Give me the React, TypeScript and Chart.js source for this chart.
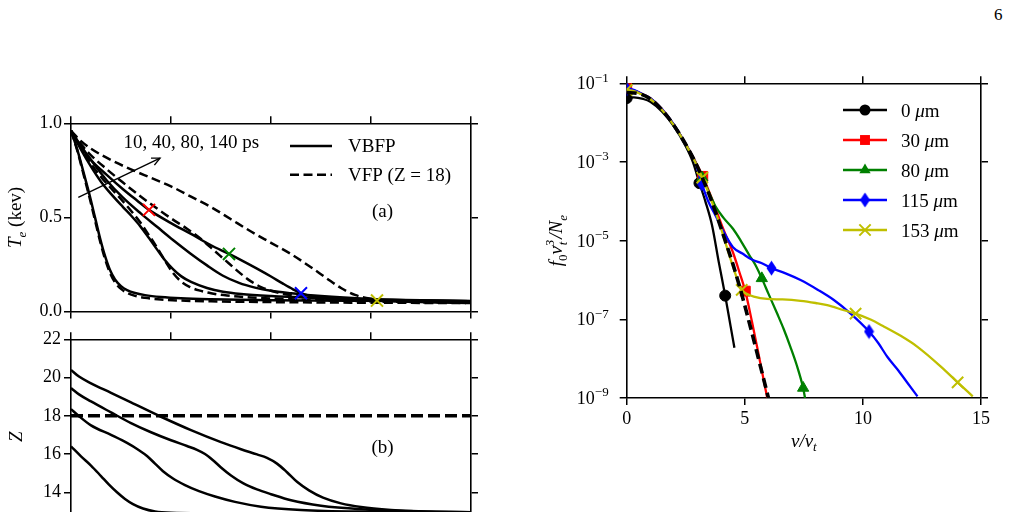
import React, { useEffect, useRef } from "react";
import { Chart, registerables } from "chart.js";

Chart.register(...registerables);

const SERIF = '"Liberation Serif", "Times New Roman", Times, serif';
const TEXT = 19;
const TICK = 18;
const COL = { red: "#ff0000", green: "#008000", blue: "#0000ff", yellow: "#bfbf00", black: "#000000" };

// ---------- (a) electron temperature vs position (µm) ----------
const vbfp10X = [0, 3, 6, 9.5, 12, 14.5, 17, 19.5, 22, 25, 28, 32, 37, 45, 55, 70, 100, 140, 200];
const vbfp10T = [0.96, 0.865, 0.75, 0.61, 0.5, 0.39, 0.295, 0.22, 0.17, 0.135, 0.114, 0.098, 0.087, 0.077, 0.07, 0.065, 0.06, 0.057, 0.055];
const vfp10X = [0, 3, 6, 9.5, 12, 14.5, 17, 19.5, 22, 25, 28, 32, 37, 45, 55, 70, 100, 140, 200];
const vfp10T = [0.96, 0.86, 0.74, 0.595, 0.485, 0.375, 0.28, 0.205, 0.155, 0.12, 0.099, 0.083, 0.073, 0.064, 0.058, 0.054, 0.05, 0.047, 0.045];

const vbfp40X = [0, 5, 10, 15, 20, 26, 30, 34.5, 39, 43, 47, 51, 55, 60, 68, 76, 85, 100, 120, 150, 200];
const vbfp40T = [0.96, 0.86, 0.77, 0.69, 0.625, 0.555, 0.51, 0.455, 0.39, 0.33, 0.272, 0.225, 0.188, 0.157, 0.125, 0.105, 0.093, 0.082, 0.073, 0.064, 0.056];
const vfp40X = [0, 5, 10, 15, 20, 26, 30, 34.5, 39, 43, 47, 51, 55, 59.5, 64, 70, 78, 90, 110, 140, 170, 200];
const vfp40T = [0.96, 0.87, 0.785, 0.715, 0.655, 0.585, 0.535, 0.475, 0.405, 0.34, 0.27, 0.205, 0.16, 0.13, 0.112, 0.097, 0.085, 0.075, 0.065, 0.056, 0.05, 0.047];

const vbfp80X = [0, 5, 10, 18, 26, 35, 43, 51, 59.5, 68, 76, 84, 92, 100, 110, 125, 150, 175, 200];
const vbfp80T = [0.96, 0.88, 0.805, 0.695, 0.605, 0.52, 0.45, 0.38, 0.31, 0.245, 0.19, 0.152, 0.127, 0.11, 0.097, 0.082, 0.067, 0.059, 0.055];
const vfp80X = [0, 5, 10, 18, 26, 35, 42, 50, 58, 65, 72, 79, 85, 90, 95, 100, 110, 120, 135, 160, 200];
const vfp80T = [0.96, 0.89, 0.83, 0.755, 0.685, 0.61, 0.555, 0.495, 0.44, 0.385, 0.32, 0.255, 0.2, 0.16, 0.13, 0.11, 0.087, 0.075, 0.065, 0.055, 0.048];

const vbfp140X = [0, 5, 10, 18, 26, 33, 39, 50, 60, 70, 79, 86, 93, 100, 106, 111, 115, 120, 126, 135, 150, 200];
const vbfp140T = [0.96, 0.875, 0.805, 0.725, 0.65, 0.59, 0.54, 0.47, 0.412, 0.352, 0.306, 0.268, 0.228, 0.186, 0.148, 0.118, 0.097, 0.081, 0.07, 0.062, 0.058, 0.055];
const vfp140X = [0, 5, 10, 20, 30, 40, 50, 60, 70, 80, 90, 100, 110, 120, 128, 135, 142, 150, 160, 175, 200];
const vfp140T = [0.96, 0.905, 0.865, 0.805, 0.755, 0.71, 0.665, 0.61, 0.555, 0.49, 0.425, 0.365, 0.305, 0.235, 0.175, 0.125, 0.088, 0.068, 0.057, 0.05, 0.045];

// positions sampled for the distributions in (c)
const crossX = [39, 79, 115, 153];
const crossT = [0.54, 0.306, 0.097, 0.058];
const crossColors = [COL.red, COL.green, COL.blue, COL.yellow];

const arrowFrom = [3.65, 0.607];
const arrowTo = [44.5, 0.815];
const timesNote = "10, 40, 80, 140 ps";

// ---------- (b) ionisation Z vs position ----------
const z140X = [0, 4, 10, 20, 30, 45, 60, 75, 85, 93, 98, 103, 108, 113, 119, 126, 135, 145, 160, 180, 200];
const z140 = [20.4, 20.05, 19.7, 19.2, 18.7, 17.95, 17.25, 16.62, 16.25, 15.98, 15.8, 15.5, 15.05, 14.55, 14.1, 13.72, 13.42, 13.23, 13.08, 12.98, 12.94];
const z80X = [0, 4, 10, 20, 30, 40, 50, 58, 63, 67, 71, 75, 80, 86, 93, 100, 110, 125, 145, 170, 200];
const z80 = [19.45, 19.12, 18.75, 18.18, 17.62, 17.14, 16.72, 16.42, 16.22, 16.0, 15.68, 15.3, 14.88, 14.48, 14.15, 13.9, 13.58, 13.3, 13.12, 13.02, 12.96];
const z40X = [0, 4, 10, 20, 28, 34, 38, 42, 46, 51, 57, 64, 72, 82, 95, 115, 150, 200];
const z40 = [18.35, 17.98, 17.5, 17.0, 16.58, 16.2, 15.9, 15.5, 15.1, 14.72, 14.38, 14.06, 13.78, 13.5, 13.25, 13.08, 12.98, 12.92];
const z10X = [0, 5, 10, 15, 19, 23, 27, 31, 36, 42, 50, 70, 100, 200];
const z10 = [16.4, 15.88, 15.4, 14.85, 14.4, 14.0, 13.65, 13.38, 13.15, 13.0, 12.93, 12.9, 12.88, 12.87];
const zFixedX = [0, 200];
const zFixed = [18, 18];

// ---------- (c) isotropic distribution f0 vs v/vt ----------
const maxwV = [0, 0.5, 1.0, 1.5, 2.0, 2.5, 2.9, 3.2, 3.6, 4.17, 4.5, 4.82, 5.24, 5.6, 6.0];
const maxwF = [0.058, 0.055, 0.04, 0.021, 0.0085, 0.0028, 1.0e-3, 4.0e-4, 1.0e-4, 1.0e-5, 2.5e-6, 5.6e-7, 6.3e-8, 9e-9, 1.0e-9];

const f0V = [0, 0.3, 0.7, 1.0, 1.5, 2.0, 2.5, 2.8, 3.08, 3.33, 3.61, 3.9, 4.17, 4.4, 4.56];
const f0F = [0.042, 0.044, 0.04, 0.034, 0.019, 0.0081, 0.0025, 1.0e-3, 2.9e-4, 1.0e-4, 2.5e-5, 2.8e-6, 4.0e-7, 6.6e-8, 1.9e-8];
const f0Marks = [0, 3.08, 4.17];

const f30V = [0, 0.3, 0.7, 1.0, 1.5, 2.0, 2.5, 2.9, 3.22, 3.6, 4.1, 4.5, 4.8, 5.02, 5.3, 5.52, 5.95];
const f30F = [0.075, 0.066, 0.052, 0.042, 0.022, 0.0088, 0.0029, 1.05e-3, 4.3e-4, 1.2e-4, 1.9e-5, 5.0e-6, 1.4e-6, 5.2e-7, 8.9e-8, 2.0e-8, 1.0e-9];
const f30Marks = [0, 3.22, 5.02];

const f80V = [0, 0.3, 0.7, 1.0, 1.5, 2.0, 2.5, 2.9, 3.2, 3.5, 3.75, 4.1, 4.5, 4.85, 5.2, 5.45, 5.72, 6.0, 6.37, 6.65, 6.93, 7.2, 7.47, 7.55];
const f80F = [0.071, 0.065, 0.051, 0.041, 0.021, 0.0087, 0.0028, 1.0e-3, 4.0e-4, 1.6e-4, 7.6e-5, 3.8e-5, 2.0e-5, 9.5e-6, 4.2e-6, 2.4e-6, 1.1e-6, 4.5e-7, 1.4e-7, 5.6e-8, 2.0e-8, 6.8e-9, 1.8e-9, 1.0e-9];
const f80Marks = [0, 3.2, 5.72, 7.47];

const f115V = [0, 0.3, 0.7, 1.0, 1.5, 2.0, 2.5, 2.9, 3.18, 3.45, 3.75, 4.1, 4.5, 4.9, 5.3, 5.7, 6.13, 6.7, 7.36, 8.1, 8.77, 9.48, 10.26, 10.65, 11.04, 11.5, 11.89, 12.31];
const f115F = [0.072, 0.068, 0.052, 0.042, 0.022, 0.0089, 0.0028, 1.0e-3, 2.8e-4, 1.0e-4, 4.5e-5, 1.7e-5, 6.8e-6, 4.7e-6, 3.3e-6, 2.7e-6, 2.0e-6, 1.5e-6, 1.0e-6, 5.6e-7, 3.1e-7, 1.4e-7, 4.9e-8, 2.5e-8, 1.1e-8, 5.0e-9, 2.4e-9, 1.1e-9];
const f115Marks = [0, 3.18, 6.13, 10.26];

const f153V = [0, 0.3, 0.7, 1.0, 1.5, 2.0, 2.5, 2.9, 3.2, 3.6, 4.0, 4.39, 4.87, 5.1, 5.38, 5.94, 6.6, 7.36, 8.0, 8.49, 9.2, 9.69, 10.3, 10.9, 11.6, 12.31, 13.3, 14.01, 14.65];
const f153F = [0.068, 0.063, 0.05, 0.04, 0.021, 0.0085, 0.0028, 1.0e-3, 4.0e-4, 1.0e-4, 2.0e-5, 3.5e-6, 5.6e-7, 4.4e-7, 3.8e-7, 3.3e-7, 3.2e-7, 2.95e-7, 2.6e-7, 2.3e-7, 1.7e-7, 1.4e-7, 1.0e-7, 6.5e-8, 3.8e-8, 2.0e-8, 6.3e-9, 2.5e-9, 1.1e-9];
const f153Marks = [0, 3.2, 4.87, 9.69, 14.01];

const legendC = ["0", "30", "80", "115", "153"];
const logTickValues = [1e-1, 1e-3, 1e-5, 1e-7, 1e-9];
const logTickExp = ["\u22121", "\u22123", "\u22125", "\u22127", "\u22129"];

// ---------- helpers ----------
type Run = { t?: string; it?: boolean; sub?: boolean; sup?: boolean; up?: string; dn?: string };

function drawRich(ctx: CanvasRenderingContext2D, runs: Run[], x: number, y: number, size: number, align: "left" | "center" | "right") {
  const small = Math.round(size * 0.7);
  const font = (it: boolean | undefined, s: number) => `${it ? "italic " : ""}${s}px ${SERIF}`;
  const widths = runs.map((r) => {
    if (r.up !== undefined || r.dn !== undefined) {
      ctx.font = font(r.it, small);
      return Math.max(ctx.measureText(r.up ?? "").width, ctx.measureText(r.dn ?? "").width) + 1;
    }
    ctx.font = font(r.it, r.sub || r.sup ? small : size);
    return ctx.measureText(r.t ?? "").width;
  });
  const total = widths.reduce((a, b) => a + b, 0);
  let cx = align === "left" ? x : align === "center" ? x - total / 2 : x - total;
  ctx.textAlign = "left";
  ctx.textBaseline = "alphabetic";
  runs.forEach((r, i) => {
    if (r.up !== undefined || r.dn !== undefined) {
      ctx.font = font(r.it, small);
      if (r.up) ctx.fillText(r.up, cx, y - size * 0.42);
      if (r.dn) ctx.fillText(r.dn, cx + 1, y + size * 0.25);
    } else {
      ctx.font = font(r.it, r.sub || r.sup ? small : size);
      const dy = r.sub ? size * 0.25 : r.sup ? -size * 0.42 : 0;
      ctx.fillText(r.t ?? "", cx, y + dy);
    }
    cx += widths[i];
  });
}

function drawRotated(ctx: CanvasRenderingContext2D, runs: Run[], x: number, y: number, size: number) {
  ctx.save();
  ctx.translate(x, y);
  ctx.rotate(-Math.PI / 2);
  drawRich(ctx, runs, 0, 0, size, "center");
  ctx.restore();
}

function makeThinDiamond(color: string) {
  const c = document.createElement("canvas");
  c.width = 11;
  c.height = 16;
  const g = c.getContext("2d")!;
  g.fillStyle = color;
  g.beginPath();
  g.moveTo(5.5, 0.5);
  g.lineTo(10.5, 8);
  g.lineTo(5.5, 15.5);
  g.lineTo(0.5, 8);
  g.closePath();
  g.fill();
  return c;
}

function drawMarker(ctx: CanvasRenderingContext2D, style: any, r: number, x: number, y: number, color: string) {
  ctx.save();
  ctx.fillStyle = color;
  ctx.strokeStyle = color;
  ctx.lineWidth = 1;
  if (typeof style !== "string") {
    ctx.drawImage(style, x - style.width / 2, y - style.height / 2);
  } else if (style === "circle") {
    ctx.beginPath();
    ctx.arc(x, y, r, 0, Math.PI * 2);
    ctx.fill();
  } else if (style === "rect") {
    const s = Math.SQRT1_2 * r;
    ctx.fillRect(x - s, y - s, 2 * s, 2 * s);
  } else if (style === "triangle") {
    ctx.beginPath();
    ctx.moveTo(x, y - r);
    ctx.lineTo(x + 0.866 * r, y + 0.5 * r);
    ctx.lineTo(x - 0.866 * r, y + 0.5 * r);
    ctx.closePath();
    ctx.fill();
  } else if (style === "crossRot") {
    const o = Math.SQRT1_2 * r;
    ctx.lineWidth = 2;
    ctx.beginPath();
    ctx.moveTo(x - o, y - o);
    ctx.lineTo(x + o, y + o);
    ctx.moveTo(x - o, y + o);
    ctx.lineTo(x + o, y - o);
    ctx.stroke();
  }
  ctx.restore();
}

const zip = (xs: number[], ys: number[]) => xs.map((x, i) => ({ x, y: ys[i] }));

function edgeScale(position: "left" | "right" | "top" | "bottom", size: number, extra: any = {}) {
  const vertical = position === "left" || position === "right";
  return {
    position,
    display: true,
    grid: { drawOnChartArea: false, drawTicks: true, tickLength: 7, color: "#000", lineWidth: 1.5 },
    border: { display: true, color: "#000", width: 1.6 },
    afterFit: (s: any) => {
      if (vertical) s.width = size;
      else s.height = size;
    },
    ...extra,
    ticks: { display: false, color: "#000", font: { family: SERIF, size: TICK }, maxRotation: 0, ...(extra.ticks || {}) },
  };
}

const baseOptions = {
  responsive: false,
  animation: false as const,
  devicePixelRatio: 1,
  events: [] as any[],
  layout: { padding: 0 },
  plugins: { legend: { display: false }, tooltip: { enabled: false } },
};

const curve = (xs: number[], ys: number[], dashed: boolean, width = 2.5, dash = [9, 4.5]) => ({
  data: zip(xs, ys),
  borderColor: "#000",
  borderWidth: width,
  borderDash: dashed ? dash : [],
  pointRadius: 0,
  cubicInterpolationMode: "monotone" as const,
  fill: false,
});

export default function App() {
  const refA = useRef<HTMLCanvasElement>(null);
  const refB = useRef<HTMLCanvasElement>(null);
  const refC = useRef<HTMLCanvasElement>(null);

  useEffect(() => {
    const charts: Chart[] = [];

    // ---------- panel (a) ----------
    const decorA = {
      id: "decorA",
      afterDraw(chart: any) {
        const { ctx, scales, chartArea } = chart;
        const X = (v: number) => scales.x.getPixelForValue(v);
        const Y = (v: number) => scales.y.getPixelForValue(v);
        ctx.save();
        ctx.fillStyle = "#000";
        ctx.strokeStyle = "#000";
        const x0 = X(arrowFrom[0]), y0 = Y(arrowFrom[1]);
        const x1 = X(arrowTo[0]), y1 = Y(arrowTo[1]);
        ctx.lineWidth = 1.4;
        ctx.beginPath();
        ctx.moveTo(x0, y0);
        ctx.lineTo(x1, y1);
        ctx.stroke();
        const ang = Math.atan2(y1 - y0, x1 - x0);
        ctx.beginPath();
        ctx.moveTo(x1 - 9 * Math.cos(ang - 0.45), y1 - 9 * Math.sin(ang - 0.45));
        ctx.lineTo(x1, y1);
        ctx.lineTo(x1 - 9 * Math.cos(ang + 0.45), y1 - 9 * Math.sin(ang + 0.45));
        ctx.stroke();
        drawRich(ctx, [{ t: timesNote }], X(26.2), Y(0.87), TEXT, "left");

        // legend
        ctx.lineWidth = 2.5;
        ctx.beginPath();
        ctx.moveTo(X(109.5), Y(0.88));
        ctx.lineTo(X(130.5), Y(0.88));
        ctx.stroke();
        ctx.setLineDash([9, 4.5]);
        ctx.beginPath();
        ctx.moveTo(X(109.5), Y(0.726));
        ctx.lineTo(X(130.5), Y(0.726));
        ctx.stroke();
        ctx.setLineDash([]);
        drawRich(ctx, [{ t: "VBFP" }], X(138.5), Y(0.88) + 6.5, TEXT, "left");
        drawRich(ctx, [{ t: "VFP (Z = 18)" }], X(138.5), Y(0.726) + 6.5, TEXT, "left");
        drawRich(ctx, [{ t: "(a)" }], X(155.75), Y(0.5), TEXT, "center");

        drawRotated(ctx, [{ t: "T", it: true }, { t: "e", it: true, sub: true }, { t: " (kev)" }], 21, (chartArea.top + chartArea.bottom) / 2, TEXT);
        ctx.restore();
      },
    };

    charts.push(
      new Chart(refA.current!, {
        type: "line",
        data: {
          datasets: [
            { ...curve(crossX, crossT, false), showLine: false, pointStyle: "crossRot", pointRadius: 8.5, pointBorderWidth: 2, pointBorderColor: crossColors, pointBackgroundColor: crossColors } as any,
            curve(vbfp10X, vbfp10T, false),
            curve(vfp10X, vfp10T, true),
            curve(vbfp40X, vbfp40T, false),
            curve(vfp40X, vfp40T, true),
            curve(vbfp80X, vbfp80T, false),
            curve(vfp80X, vfp80T, true),
            curve(vbfp140X, vbfp140T, false),
            curve(vfp140X, vfp140T, true),
          ].map((d: any, i) => ({ order: i, ...d })),
        },
        options: {
          ...baseOptions,
          scales: {
            x: edgeScale("bottom", 18.5, { type: "linear", min: 0, max: 200, ticks: { stepSize: 50 } }),
            xTop: edgeScale("top", 23.3, { type: "linear", min: 0, max: 200, ticks: { stepSize: 50 } }),
            y: edgeScale("left", 71, { type: "linear", min: 0, max: 1, ticks: { display: true, stepSize: 0.5, padding: 2, callback: (v: any) => Number(v).toFixed(1) } }),
            yRight: edgeScale("right", 29, { type: "linear", min: 0, max: 1, ticks: { stepSize: 0.5 } }),
          },
        } as any,
        plugins: [decorA],
      })
    );

    // ---------- panel (b) ----------
    const decorB = {
      id: "decorB",
      afterDraw(chart: any) {
        const { ctx, scales } = chart;
        ctx.save();
        ctx.fillStyle = "#000";
        drawRich(ctx, [{ t: "(b)" }], scales.x.getPixelForValue(155.75), scales.y.getPixelForValue(16.05), TEXT, "center");
        drawRotated(ctx, [{ t: "Z", it: true }], 21.5, 116.7, TEXT);
        ctx.restore();
      },
    };

    charts.push(
      new Chart(refB.current!, {
        type: "line",
        data: {
          datasets: [
            curve(z10X, z10, false),
            curve(z40X, z40, false),
            curve(z80X, z80, false),
            curve(z140X, z140, false),
            curve(zFixedX, zFixed, true, 3.4, [12, 5]),
          ],
        },
        options: {
          ...baseOptions,
          scales: {
            x: edgeScale("bottom", 29.45, { type: "linear", min: 0, max: 200, ticks: { stepSize: 50 } }),
            xTop: edgeScale("top", 19.3, { type: "linear", min: 0, max: 200, ticks: { stepSize: 50 } }),
            y: edgeScale("left", 71, { type: "linear", min: 12, max: 22, ticks: { display: true, stepSize: 2, padding: 3 } }),
            yRight: edgeScale("right", 29, { type: "linear", min: 12, max: 22, ticks: { stepSize: 2 } }),
          },
        } as any,
        plugins: [decorB],
      })
    );

    // ---------- panel (c) ----------
    const diamond = makeThinDiamond(COL.blue);
    const series = [
      { v: f0V, f: f0F, marks: f0Marks, color: COL.black, style: "circle", r: 5.5 },
      { v: f30V, f: f30F, marks: f30Marks, color: COL.red, style: "rect", r: 7 },
      { v: f80V, f: f80F, marks: f80Marks, color: COL.green, style: "triangle", r: 6.5 },
      { v: f115V, f: f115F, marks: f115Marks, color: COL.blue, style: diamond as any, r: 7 },
      { v: f153V, f: f153F, marks: f153Marks, color: COL.yellow, style: "crossRot", r: 8 },
    ];

    const decorC = {
      id: "decorC",
      afterDraw(chart: any) {
        const { ctx, scales, chartArea } = chart;
        ctx.save();
        ctx.fillStyle = "#000";
        // log tick labels
        logTickValues.forEach((v, i) => {
          const py = scales.y.getPixelForValue(v);
          drawRich(ctx, [{ t: "10" }, { t: logTickExp[i], sup: true }], chartArea.left - 18, py + 6, TICK, "right");
        });
        // axis titles
        drawRich(ctx, [{ t: "v/v", it: true }, { t: "t", it: true, sub: true }], (chartArea.left + chartArea.right) / 2, chartArea.bottom + 48.5, TEXT, "center");
        drawRotated(
          ctx,
          [{ t: "f", it: true }, { t: "0", sub: true }, { t: "v", it: true }, { up: "3", dn: "t", it: true }, { t: "/N", it: true }, { t: "e", it: true, sub: true }],
          22,
          (chartArea.top + chartArea.bottom) / 2,
          TEXT
        );
        // legend
        series.forEach((s, i) => {
          const ly = chartArea.top + 26.7 + 30 * i;
          const lx0 = chartArea.left + 216.3;
          const lx1 = chartArea.left + 260.3;
          ctx.strokeStyle = s.color;
          ctx.lineWidth = 2.3;
          ctx.beginPath();
          ctx.moveTo(lx0, ly);
          ctx.lineTo(lx1, ly);
          ctx.stroke();
          drawMarker(ctx, s.style, s.r, (lx0 + lx1) / 2, ly, s.color);
          ctx.fillStyle = "#000";
          drawRich(ctx, [{ t: legendC[i] + " " }, { t: "\u03bc", it: true }, { t: "m" }], chartArea.left + 274.3, ly + 6.5, TEXT, "left");
        });
        ctx.restore();
      },
    };

    const cDatasets: any[] = series.map((s, i) => ({
      data: zip(s.v, s.f),
      borderColor: s.color,
      borderWidth: 2.3,
      pointStyle: s.style,
      pointRadius: s.v.map((v) => (s.marks.includes(v) ? s.r : 0)),
      pointBackgroundColor: s.color,
      pointBorderColor: s.color,
      pointBorderWidth: s.style === "crossRot" ? 2 : 1,
      cubicInterpolationMode: "monotone",
      fill: false,
      order: 5 - i,
    }));
    cDatasets.push({ ...curve(maxwV, maxwF, true, 3.6, [10, 5]), order: 0 });

    const logAxis = (pos: "left" | "right", size: number) =>
      edgeScale(pos, size, {
        type: "logarithmic",
        min: 1e-9,
        max: 1e-1,
        afterBuildTicks: (s: any) => {
          s.ticks = logTickValues.map((value) => ({ value }));
        },
      });

    charts.push(
      new Chart(refC.current!, {
        type: "line",
        data: { datasets: cDatasets },
        options: {
          ...baseOptions,
          scales: {
            x: edgeScale("bottom", 62, { type: "linear", min: 0, max: 15, ticks: { display: true, stepSize: 5, padding: 3 } }),
            xTop: edgeScale("top", 23.3, { type: "linear", min: 0, max: 15, ticks: { stepSize: 5 } }),
            y: logAxis("left", 86.7),
            yRight: logAxis("right", 31),
          },
        } as any,
        plugins: [decorC],
      })
    );

    return () => charts.forEach((c) => c.destroy());
  }, []);

  return (
    <div style={{ position: "fixed", left: 0, top: 0, width: 1012, height: 512, overflow: "hidden", background: "#fff" }}>
      <div style={{ position: "absolute", left: 994, top: 5, font: `17px ${SERIF}`, color: "#000", lineHeight: "normal" }}>6</div>
      <canvas ref={refA} width={500} height={230} style={{ position: "absolute", left: 0, top: 100, width: 500, height: 230 }} />
      <canvas ref={refB} width={500} height={240} style={{ position: "absolute", left: 0, top: 320, width: 500, height: 240 }} />
      <canvas ref={refC} width={472} height={400} style={{ position: "absolute", left: 540, top: 60, width: 472, height: 400 }} />
    </div>
  );
}
